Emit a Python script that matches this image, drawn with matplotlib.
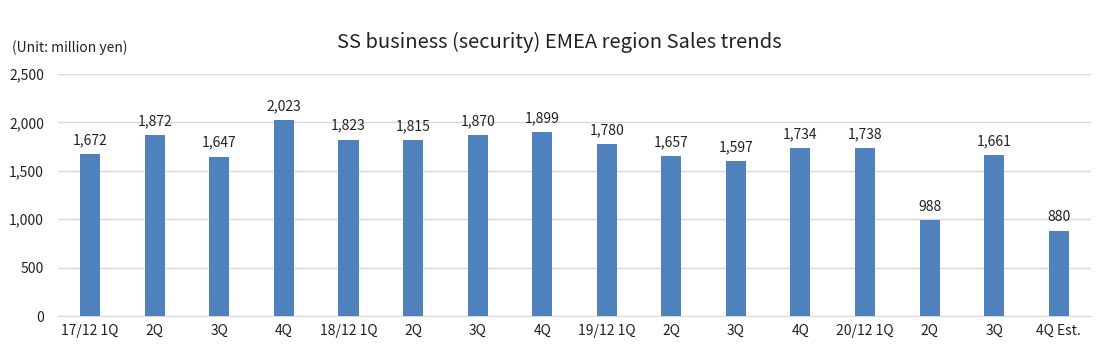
import matplotlib
matplotlib.use("Agg")
import matplotlib.pyplot as plt
from matplotlib.ticker import FuncFormatter

plt.rcParams['font.family'] = ['Noto Sans CJK JP', 'DejaVu Sans']

categories = ["17/12 1Q", "2Q", "3Q", "4Q", "18/12 1Q", "2Q", "3Q", "4Q",
              "19/12 1Q", "2Q", "3Q", "4Q", "20/12 1Q", "2Q", "3Q", "4Q Est."]
sales = [1672, 1872, 1647, 2023, 1823, 1815, 1870, 1899,
         1780, 1657, 1597, 1734, 1738, 988, 1661, 880]
yticks = [0, 500, 1000, 1500, 2000, 2500]

fig = plt.figure(figsize=(11.08, 3.53), dpi=100)
ax = fig.add_axes([0.0523, 0.1048, 0.9324, 0.6856])

x = list(range(len(categories)))
ax.bar(x, sales, width=0.31, color="#4F81BD", zorder=3)
for xi, v in zip(x, sales):
    ax.text(xi, v + 70, f"{v:,}", ha="center", va="bottom", fontsize=10, color="#222222")

ax.set_xlim(-0.5, len(categories) - 0.5)
ax.set_ylim(0, 2500)
ax.set_yticks(yticks)
ax.yaxis.set_major_formatter(FuncFormatter(lambda v, p: f"{int(v):,}"))
ax.set_xticks(x)
ax.set_xticklabels(categories)
ax.tick_params(axis="both", length=0, labelsize=10, colors="#222222")
ax.tick_params(axis="y", pad=10)
ax.tick_params(axis="x", pad=6)
ax.grid(axis="y", color="#D9D9D9", linewidth=1, zorder=0)
for s in ["top", "right", "left"]:
    ax.spines[s].set_visible(False)
ax.spines["bottom"].set_color("#D9D9D9")

fig.text(0.505, 0.88, "SS business (security) EMEA region Sales trends",
         ha="center", va="center", fontsize=14.5, color="#222222")
fig.text(0.011, 0.865, "(Unit: million yen)", ha="left", va="center",
         fontsize=10, color="#222222")

fig.savefig("out.png", dpi=100)
